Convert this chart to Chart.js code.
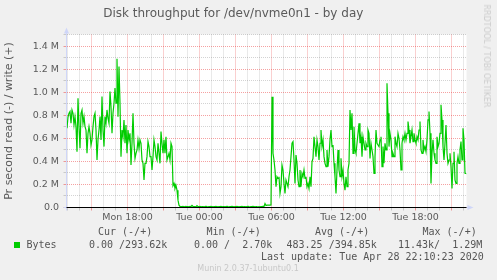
<!DOCTYPE html>
<html><head><meta charset="utf-8">
<script src="https://cdn.jsdelivr.net/npm/chart.js@4.4.1/dist/chart.umd.min.js"></script>
<style>
html,body{margin:0;padding:0;background:#f0f0f0;}
#wrap{position:relative;width:497px;height:280px;overflow:hidden;background:#f0f0f0;}
canvas{position:absolute;left:0;top:0;}
.t{position:absolute;white-space:pre;font-family:'DejaVu Sans Mono',monospace;font-size:10px;line-height:12px;color:#555;}
.sq{position:absolute;left:14px;top:242px;width:6px;height:6px;background:#00cc00;}
.ver{position:absolute;left:148px;width:200px;top:264px;text-align:center;font-family:'DejaVu Sans',sans-serif;font-size:8px;line-height:10px;color:#c8c8c8;}
.rrd{position:absolute;left:486px;top:56px;transform:translate(-50%,-50%) rotate(90deg);white-space:pre;font-family:'DejaVu Sans',sans-serif;font-size:8px;line-height:10px;color:#cccccc;}
</style></head><body>
<div id="wrap">
<canvas id="c" width="497" height="280"></canvas>
<div class="t" style="left:98px;top:226px">Cur (-/+)</div>
<div class="t" style="left:206.5px;top:226px">Min (-/+)</div>
<div class="t" style="left:315px;top:226px">Avg (-/+)</div>
<div class="t" style="left:422.5px;top:226px">Max (-/+)</div>
<div class="sq"></div>
<div class="t" style="left:26.5px;top:239px">Bytes</div>
<div class="t" style="left:89px;top:239px">0.00 /293.62k</div>
<div class="t" style="left:194px;top:239px">0.00 /  2.70k</div>
<div class="t" style="left:286.5px;top:239px">483.25 /394.85k</div>
<div class="t" style="left:398px;top:239px">11.43k/  1.29M</div>
<div class="t" style="left:261px;top:251px">Last update: Tue Apr 28 22:10:23 2020</div>
<div class="ver">Munin 2.0.37-1ubuntu0.1</div>
<div class="rrd">RRDTOOL / TOBI OETIKER</div>
</div>
<script>
// ---- data (write bytes per second, in M), one value per 5 minutes ----
const writeMonAfternoon = [
.687,.783,.817,.832,.730,.846,.817,.716,.788,.701,
.484,.948,.701,.513,.817,.846,.730,.788,.701,.672,
.470,.643,.701,.643,.542,.586,.701,.788,.817,.672,
.412,.586,.672,.788,.586,.962,.672,.528,.788,.730,
.846,.774,.730,1.006,.875,.643,.817,.904,1.035,.904,
1.29,.788,1.223,.904,.441,.672,.614,.759,.557,.716,
.470,.672,.586,.643,.368,.557,.817,.557,.426,.470,
.499,.586,.513,.586,.557,.412,.383,.238,.383,.383,
.441,.571,.528,.441,.441,.325,.441,.586,.528,.441,
.412,.557,.470,.383,.658,.557,.470,.586,.470,.614,
.412,.441];
const writeEvening = [.470,.412,.557,.528,.190,.209,.165,.190,.150,.064,.020,.009];
const writeNight = [
.008,.007,.009,.006,.008,.010,.007,.008,.006,.009,.007,.018,.009,.007,.008,.006,.016,.008,.007,.009,
.006,.008,.007,.005,.008,.009,.007,.006,.008,.007,.009,.008,.006,.007,.008,.010,.007,.006,.008,.007,
.009,.006,.008,.007,.005,.008,.009,.007,.006,.008,.007,.009,.008,.006,.007,.008,.010,.007,.006,.008,
.007,.009,.006,.008,.007,.005,.008,.009,.007,.006,.008,.007,.009,.008,.006,.007,.008,.003,.007,.006,
.008,.007,.009,.010,
.035,.017,.020,.020,.021,.020,.022];
const writeTueMorning = [.960,
.470,.412,.325,.180,.267,.252,.267,.122,.180,.368,
.325,.209,.122,.238,.209,.180,.267,.325,.441,.557,
.571,.412,.209,.455,.383,.238,.180,.325,.180,.296,
.267,.325,.252,.267,.180,.209,.165,.267,.180,.397,
.426,.614,.528,.441,.586,.528,.412,.557,.672,.528,
.586,.441,.383,.354,.499,.354,.441,.586,.672,.528,
.542,.383,.267,.122,.325,.499,.325,.267,.426,.267,
.325,.209,.151,.267,.180,.325,.383,.846,.672,.817,
.470,.701,.499,.470,.557,.643,.730,.557,.614,.441,
.614,.557,.499,.557,.528,.672,.643];
const writeTueAfternoon = [
.426,.557,.499,.441,.296,.441,.672,.557,.542,.528,
.586,.614,.354,.528,.383,.557,.499,1.078,.817,.528,
.643,.586,.441,.470,.441,.614,.557,.528,.643,.600,
.499,.325,.557,.614,.586,.643,.586,.643,.745,.672,
.557,.614,.672,.571,.643,.586,.557,.614,.586,.672,
.745,.499,.470,.586,.499,.528,.484,.586,.759,.832,
.643,.209,.470,.586,.470,.412,.383,.614,.528,.557,
.643,.890,.759,.528,.412,.557,.716,.470,.383,.412,
.470,.354,.165,.383,.484,.238,.209,.383,.441,.383,
.499,.571,.412,.687,.586,.296,.294];

// tick labels (hours relative to Mon 18:00)
const xLabelHours = [0, 6, 12, 18, 24];
const xLabels = ['Mon 18:00', 'Tue 00:00', 'Tue 06:00', 'Tue 12:00', 'Tue 18:00'];
const yTickLabels = ['0.0', '0.2 M', '0.4 M', '0.6 M', '0.8 M', '1.0 M', '1.2 M', '1.4 M'];

const TITLE = 'Disk throughput for /dev/nvme0n1 - by day';
const Y_TITLE = 'Pr second read (-) / write (+)';

// ---- build ----
const writeAll = [].concat(writeMonAfternoon, writeEvening, writeNight, writeTueMorning, writeTueAfternoon);
const X_MIN = -5 - 5/60;        // Mon 12:55
const X_MAX = X_MIN + 400/12;   // 400 five-minute steps
const points = writeAll.map((v, i) => ({x: X_MIN + (i + 0.5) / 12, y: v}));

const hourTicks = [];
for (let h = -5; h <= 28; h++) hourTicks.push(h);
const yTicks = [];
for (let k = 0; k <= 15; k++) yTicks.push(k / 10);

const RED = 'rgba(230,20,20,0.4)';
const GREY = 'rgba(128,128,128,0.35)';
const TXT = '#5a5a5a';
const AXISC = '#CFD6F8';

const bgPlugin = {
  id: 'bg',
  beforeDraw(chart) {
    const {ctx, chartArea: a} = chart;
    ctx.save(); ctx.fillStyle = '#ffffff';
    ctx.fillRect(a.left, a.top, a.right - a.left, a.bottom - a.top);
    ctx.restore();
  }
};
const axesPlugin = {
  id: 'munAxes',
  afterDatasetsDraw(chart) {
    const {ctx, chartArea: a, scales: {x, y}} = chart;
    const y0 = y.getPixelForValue(0);
    ctx.save();
    ctx.strokeStyle = AXISC; ctx.fillStyle = AXISC; ctx.lineWidth = 1;
    ctx.beginPath(); ctx.moveTo(a.left, a.bottom + 3); ctx.lineTo(a.left, a.top - 4); ctx.stroke();
    ctx.beginPath(); ctx.moveTo(a.left - 2.5, a.top - 1); ctx.lineTo(a.left + 2.5, a.top - 1); ctx.lineTo(a.left, a.top - 7); ctx.closePath(); ctx.fill();
    ctx.beginPath(); ctx.moveTo(a.left - 3, y0); ctx.lineTo(a.right + 4, y0); ctx.stroke();
    ctx.beginPath(); ctx.moveTo(a.right + 1, y0 - 2.5); ctx.lineTo(a.right + 1, y0 + 2.5); ctx.lineTo(a.right + 7, y0); ctx.closePath(); ctx.fill();
    ctx.strokeStyle = '#000000';
    ctx.beginPath(); ctx.moveTo(a.left, y0); ctx.lineTo(a.right, y0); ctx.stroke();
    ctx.restore();
  }
};

new Chart(document.getElementById('c'), {
  type: 'line',
  data: {datasets: [{
    label: 'Bytes', data: points, borderColor: '#00cc00', borderWidth: 1.2,
    pointRadius: 0, tension: 0, fill: false
  }]},
  plugins: [bgPlugin, axesPlugin],
  options: {
    responsive: false, animation: false, devicePixelRatio: 1,
    layout: {padding: {left: 0, right: 30.5, top: 0, bottom: 0}},
    plugins: {
      legend: {display: false}, tooltip: {enabled: false},
      title: {display: true, text: TITLE, color: TXT,
        font: {family: 'DejaVu Sans', size: 12, weight: 'normal'}, padding: {top: 7, bottom: 13.1}}
    },
    scales: {
      x: {
        type: 'linear', min: X_MIN, max: X_MAX,
        afterFit(s) { s.height = 72.5; },
        afterBuildTicks(s) { s.ticks = hourTicks.map(v => ({value: v})); },
        ticks: {
          autoSkip: false, maxRotation: 0, minRotation: 0, padding: 1, color: TXT,
          font: {family: 'DejaVu Sans', size: 9.5},
          callback(v) { const k = xLabelHours.indexOf(v); return k >= 0 ? xLabels[k] : ''; }
        },
        grid: {
          drawTicks: true, tickLength: 3, lineWidth: 1,
          color: c => (((c.tick && c.tick.value) % 3 + 3) % 3 === 0 ? RED : GREY),
          tickColor: c => (((c.tick && c.tick.value) % 3 + 3) % 3 === 0 ? RED : GREY)
        },
        border: {display: false, dash: [1, 1]}
      },
      y: {
        min: 0, max: 1.5,
        afterFit(s) { s.width = 66.5; },
        afterBuildTicks(s) { s.ticks = yTicks.map(v => ({value: v})); },
        ticks: {
          autoSkip: false, padding: 4.5, color: TXT,
          font: {family: 'DejaVu Sans', size: 9.5},
          callback(v, i) { return i % 2 === 0 ? yTickLabels[i / 2] : ''; }
        },
        grid: {
          drawTicks: true, tickLength: 3, lineWidth: 1,
          color: c => (c.index % 2 === 0 ? RED : GREY),
          tickColor: c => (c.index % 2 === 0 ? RED : GREY)
        },
        border: {display: false, dash: [1, 1]},
        title: {display: true, text: Y_TITLE, color: TXT,
          font: {family: 'DejaVu Sans', size: 11}, padding: {top: 3, bottom: 0}}
      }
    }
  }
});
</script>
</body></html>
